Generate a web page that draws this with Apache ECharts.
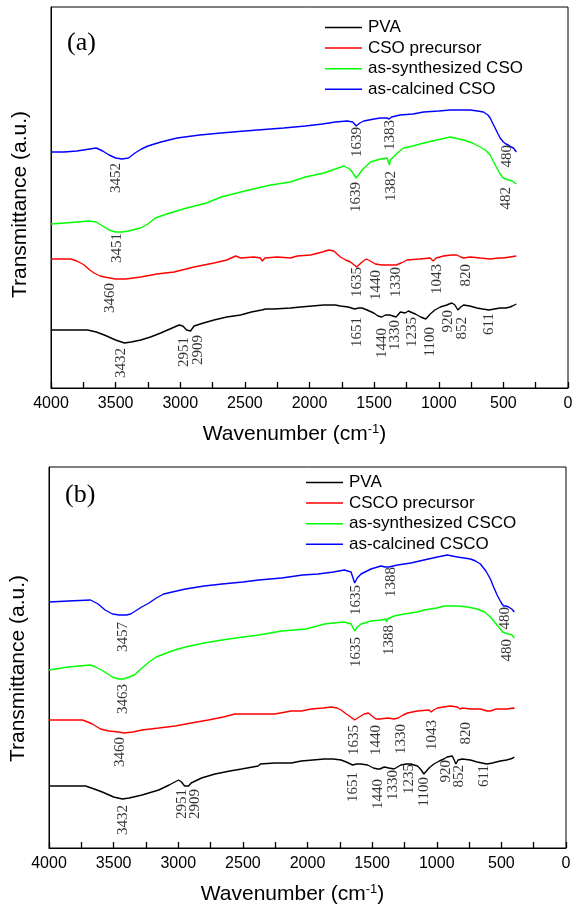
<!DOCTYPE html>
<html>
<head>
<meta charset="utf-8">
<script src="https://cdn.jsdelivr.net/npm/echarts@6/dist/echarts.min.js"></script>
<style>
html,body{margin:0;padding:0;background:#fff;}
#chart{width:576px;height:907px;}
</style>
</head>
<body>
<div id="chart"></div>
<script>
// ---------- DATA (wavenumber cm-1, transmittance a.u.) ----------
const namesA = ['PVA', 'CSO precursor', 'as-synthesized CSO', 'as-calcined CSO'];
const namesB = ['PVA', 'CSCO precursor', 'as-synthesized CSCO', 'as-calcined CSCO'];
const colors = ['#000000', '#ff0000', '#00ff00', '#0000ff'];

const pvaA = [[4000,58],[3850,58],[3717,58],[3650,56],[3588,53],[3500,48],[3432,45],[3380,46],[3305,48],[3230,51],[3151,55],[3080,59],[3009,63],[2980,62],[2951,58],[2920,57],[2909,58],[2893,62],[2820,65],[2739,68],[2640,71],[2533,73],[2450,76],[2370,78],[2360,80],[2340,79],[2276,79],[2147,80],[2070,81],[1889,83],[1800,83],[1761,82],[1700,81],[1651,79],[1620,80],[1593,80],[1555,78],[1503,75],[1470,72],[1440,71],[1413,73],[1380,73],[1355,72],[1330,71],[1297,76],[1260,75],[1235,77],[1200,75],[1181,74],[1140,71],[1100,69],[1066,74],[1030,78],[988,81],[937,83],[920,84],[898,85],[875,83],[852,78],[830,81],[808,83],[760,82],[705,80],[660,79],[611,78],[570,79],[525,80],[480,80],[448,81],[430,82],[415,80],[400,84]];
const precA = [[4000,129],[3846,129],[3800,127],[3743,123],[3700,118],[3666,115],[3620,112],[3588,111],[3500,109],[3421,109],[3305,111],[3180,114],[3048,116],[2893,121],[2739,125],[2640,128],[2571,132],[2533,130],[2430,131],[2380,130],[2365,127],[2345,130],[2250,131],[2147,130],[2095,132],[1992,133],[1900,136],[1851,138],[1812,137],[1761,131],[1720,128],[1683,126],[1635,121],[1610,124],[1593,126],[1560,129],[1530,127],[1490,124],[1440,123],[1400,123],[1330,123],[1290,125],[1246,128],[1150,129],[1066,130],[1043,127],[1020,130],[963,132],[900,133],[859,133],[830,131],[820,129],[808,130],[757,131],[680,130],[602,129],[540,130],[500,130],[450,131],[400,132]];
const synA = [[4000,164],[3900,165],[3800,166],[3705,167],[3650,166],[3600,162],[3550,158],[3500,156],[3451,156],[3400,157],[3308,160],[3250,164],[3194,170],[3081,175],[2950,180],[2797,185],[2684,191],[2500,197],[2300,203],[2147,206],[2031,211],[1889,215],[1800,219],[1735,222],[1690,219],[1670,216],[1639,210],[1615,214],[1593,218],[1529,226],[1450,229],[1400,230],[1388,228],[1382,223],[1375,228],[1362,230],[1320,235],[1272,240],[1200,242],[1117,245],[1014,248],[911,251],[808,248],[740,245],[680,241],[640,238],[602,233],[575,226],[551,220],[525,214],[500,210],[482,209],[460,208],[430,207],[400,204]];
const calA = [[4000,236],[3900,236],[3800,237],[3700,239],[3650,240],[3600,237],[3550,233],[3500,230],[3452,229],[3400,230],[3350,235],[3300,239],[3250,242],[3150,246],[3024,250],[2850,253],[2684,255],[2500,257],[2400,258],[2200,260],[2031,262],[1900,264],[1800,266],[1709,267],[1665,266],[1639,262],[1610,265],[1580,267],[1500,269],[1452,270],[1400,270],[1383,269],[1365,271],[1300,273],[1200,274],[1117,276],[1000,277],[911,278],[800,278],[757,278],[700,277],[654,276],[620,273],[602,270],[580,264],[564,260],[545,255],[525,250],[500,246],[480,244],[461,243],[440,241],[422,240],[400,236]];

const pvaB = [[4000,62],[3850,62],[3717,62],[3650,59],[3588,56],[3500,51],[3432,49],[3380,50],[3280,53],[3151,58],[3070,63],[2998,68],[2975,66],[2951,62],[2920,62],[2909,63],[2900,65],[2820,70],[2716,74],[2600,77],[2510,79],[2381,82],[2365,84],[2356,84],[2254,85],[2125,85],[2048,87],[1869,89],[1800,89],[1740,88],[1700,86],[1651,83],[1620,84],[1586,84],[1535,83],[1490,80],[1458,79],[1440,79],[1407,81],[1370,80],[1330,79],[1278,83],[1235,84],[1201,84],[1149,82],[1120,78],[1100,74],[1060,80],[1022,84],[980,87],[945,89],[920,91],[880,92],[865,88],[852,84],[835,88],[803,89],[740,88],[688,86],[611,84],[570,85],[508,87],[460,88],[431,89],[410,90],[400,91]];
const precB = [[4000,128],[3850,128],[3742,128],[3700,126],[3665,124],[3601,119],[3537,117],[3460,116],[3421,115],[3350,116],[3280,118],[3150,120],[3024,122],[2900,125],[2767,128],[2650,131],[2562,134],[2458,134],[2365,134],[2356,132],[2345,134],[2254,134],[2125,137],[2048,137],[1971,139],[1880,140],[1817,141],[1770,140],[1740,138],[1700,134],[1676,132],[1635,128],[1600,131],[1561,134],[1530,135],[1500,132],[1470,129],[1440,129],[1380,130],[1330,129],[1300,130],[1260,133],[1226,135],[1150,137],[1060,138],[1043,136],[1025,138],[995,140],[950,141],[893,142],[840,141],[820,139],[800,140],[739,139],[660,139],[611,137],[585,137],[540,139],[508,139],[460,139],[406,140],[400,139]];
const synB = [[4000,178],[3850,181],[3679,183],[3640,181],[3594,178],[3509,171],[3463,169],[3424,169],[3380,171],[3340,173],[3280,180],[3226,186],[3170,191],[3050,197],[2944,201],[2800,205],[2661,208],[2500,211],[2378,213],[2200,217],[2010,219],[1869,224],[1800,225],[1715,226],[1663,224],[1635,217],[1615,221],[1586,224],[1509,227],[1430,228],[1394,229],[1388,226],[1380,229],[1330,232],[1253,234],[1150,236],[1099,238],[1000,240],[944,242],[841,242],[760,241],[688,239],[630,236],[585,231],[540,224],[508,219],[490,216],[480,214],[470,215],[455,215],[418,213],[400,210]];
const calB = [[4000,246],[3850,247],[3679,248],[3620,244],[3566,238],[3509,234],[3457,233],[3400,233],[3368,234],[3283,241],[3226,245],[3170,250],[3113,254],[2944,259],[2800,262],[2661,264],[2500,266],[2378,268],[2200,270],[2038,273],[1919,274],[1800,276],[1715,278],[1663,276],[1635,265],[1615,270],[1586,274],[1509,279],[1432,282],[1400,281],[1388,280],[1370,281],[1303,283],[1200,285],[1099,288],[995,291],[918,293],[841,291],[739,289],[700,287],[662,284],[620,277],[585,269],[560,261],[533,253],[500,245],[483,242],[465,242],[444,241],[420,239],[400,236]];

// peak annotations: [wavenumber, transmittance at the label's upper end, text]
const annA = [[3500,225,'3452'],[1635,261,'1639'],[1377,268,'1383'],[474,243,'480'],
  [3486,155,'3451'],[1638,206,'1639'],[1368,217,'1382'],[480,201,'482'],
  [3542,105,'3460'],[1635,121,'1635'],[1485,118,'1440'],[1331,121,'1330'],[1016,124,'1043'],[789,124,'820'],
  [3457,40,'3432'],[2974,51,'2951'],[2860,53,'2909'],[1635,71,'1651'],[1441,60,'1440'],[1338,68,'1330'],[1209,71,'1235'],[1068,61,'1100'],[926,78,'920'],[822,71,'852'],[609,75,'611']];
const annB = [[3430,226,'3457'],[1623,263,'1635'],[1354,281,'1388'],[469,241,'480'],
  [1628,211,'1635'],[1370,223,'1388'],[454,209,'480'],[3424,164,'3463'],
  [3453,111,'3460'],[1636,123,'1635'],[1469,123,'1440'],[1277,124,'1330'],[1033,128,'1043'],[777,126,'820'],
  [3424,43,'3432'],[2972,59,'2951'],[2873,59,'2909'],[1649,76,'1651'],[1456,69,'1440'],[1341,78,'1330'],[1213,84,'1235'],[1098,71,'1100'],[931,88,'920'],[829,83,'852'],[636,83,'611']];

const yMax = 381;

// ---------- CHART ----------
const SANS = 'Liberation Sans, Arial, sans-serif';
const SERIF = 'Liberation Serif, Times New Roman, serif';

function xAxisCfg(gi) {
  return {
    gridIndex: gi, type: 'value', inverse: true, min: 0, max: 4000, interval: 500,
    axisLine: {show: true, onZero: false, lineStyle: {color: '#000', width: 1}},
    axisTick: {show: true, inside: true, length: 6, lineStyle: {color: '#000', width: 1.3}},
    minorTick: {show: true, splitNumber: 2, length: 6, lineStyle: {color: '#000', width: 1.3}},
    splitLine: {show: false},
    axisLabel: {color: '#000', fontFamily: SANS, fontSize: 16, margin: 8, formatter: v => String(v)},
    name: 'Wavenumber (cm{sup|-1})', nameLocation: 'middle', nameGap: 35,
    nameTextStyle: {color: '#000', fontFamily: SANS, fontSize: 21, padding: [0, 30, 0, 0],
      rich: {sup: {fontSize: 13, verticalAlign: 'top', padding: [0, 0, 9, 0], fontFamily: SANS, color: '#000'}}}
  };
}
function yAxisCfg(gi, shift) {
  return {
    gridIndex: gi, type: 'value', min: 0, max: yMax,
    axisLine: {show: true, onZero: false, lineStyle: {color: '#000'}},
    axisTick: {show: false}, axisLabel: {show: false}, splitLine: {show: false},
    name: 'Transmittance (a.u.)', nameLocation: 'middle', nameGap: 20,
    nameTextStyle: {color: '#000', fontFamily: SANS, fontSize: 21, padding: [0, shift, 0, 0]}
  };
}
function lineSeries(name, data, color, gi) {
  return {name: name, type: 'line', xAxisIndex: gi, yAxisIndex: gi, data: data,
    symbol: 'none', smooth: false, lineStyle: {color: color, width: 1.4}, itemStyle: {color: color},
    emphasis: {disabled: true}, animation: false, silent: true};
}
function annSeries(ann, gi) {
  return {type: 'scatter', xAxisIndex: gi, yAxisIndex: gi, symbolSize: 0, silent: true, animation: false,
    data: ann.map(a => ({value: [a[0], a[1]], name: a[2]})),
    label: {show: true, position: [0, 0], rotate: 90, align: 'right', verticalAlign: 'middle',
      formatter: p => p.name, color: '#000', fontFamily: SERIF, fontSize: 15}};
}
function legendCfg(names, left, top) {
  return {data: names.map(n => ({name: n, icon: 'rect'})), orient: 'vertical', left: left, top: top,
    itemWidth: 37, itemHeight: 1.5, itemGap: 3.6, selectedMode: false,
    textStyle: {color: '#000', fontFamily: SANS, fontSize: 17, lineHeight: 17, padding: [0, 0, 0, 1]}};
}

const chart = echarts.init(document.getElementById('chart'), null, {renderer: 'canvas'});
chart.setOption({
  backgroundColor: '#fff',
  animation: false,
  grid: [
    {left: 51, right: 8, top: 7, height: 381, show: true, borderColor: '#000', borderWidth: 1},
    {left: 46, right: 10, top: 467, height: 381, show: true, borderColor: '#000', borderWidth: 1}
  ],
  xAxis: [xAxisCfg(0), xAxisCfg(1)],
  yAxis: [yAxisCfg(0, 14), yAxisCfg(1, 22)],
  legend: [legendCfg(namesA, 320, 14), legendCfg(namesB, 301, 469)],
  graphic: [
    {type: 'text', left: 67, top: 30, style: {text: '(a)', font: '26px ' + SERIF, fill: '#000'}},
    {type: 'text', left: 65, top: 482, style: {text: '(b)', font: '26px ' + SERIF, fill: '#000'}}
  ],
  series: [
    lineSeries(namesA[0], pvaA, colors[0], 0),
    lineSeries(namesA[1], precA, colors[1], 0),
    lineSeries(namesA[2], synA, colors[2], 0),
    lineSeries(namesA[3], calA, colors[3], 0),
    annSeries(annA, 0),
    lineSeries(namesB[0], pvaB, colors[0], 1),
    lineSeries(namesB[1], precB, colors[1], 1),
    lineSeries(namesB[2], synB, colors[2], 1),
    lineSeries(namesB[3], calB, colors[3], 1),
    annSeries(annB, 1)
  ]
});
</script>
</body>
</html>
